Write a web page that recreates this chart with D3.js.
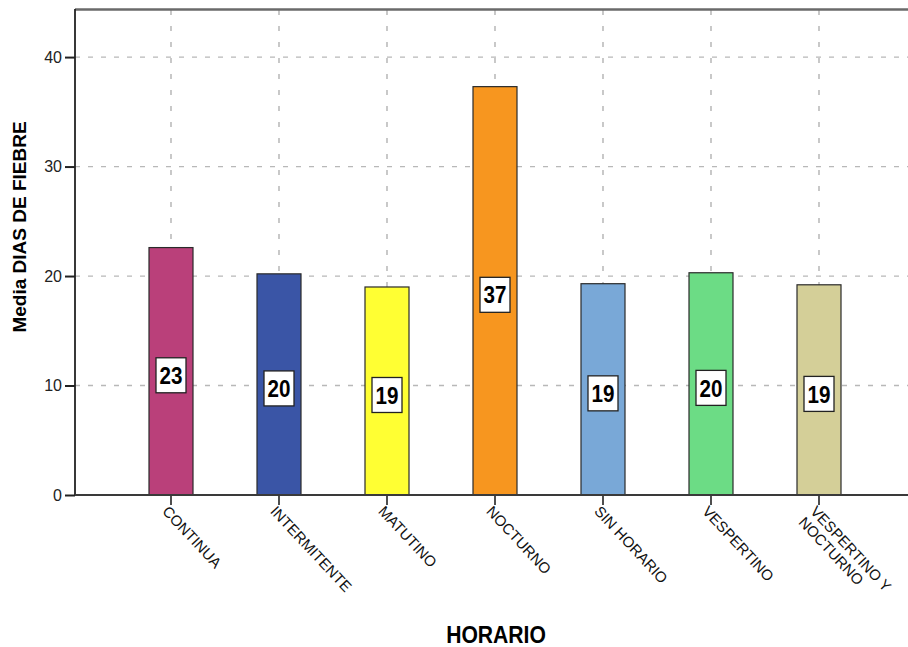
<!DOCTYPE html>
<html>
<head>
<meta charset="utf-8">
<script src="https://cdn.jsdelivr.net/npm/d3@7"></script>
<style>
  html, body { margin: 0; padding: 0; background: #fff; }
  svg { display: block; font-family: "Liberation Sans", Arial, sans-serif; }
</style>
</head>
<body>
<svg id="chart" width="908" height="647"></svg>
<script>
// Mean days of fever by schedule
const categories = ["CONTINUA", "INTERMITENTE", "MATUTINO", "NOCTURNO", "SIN HORARIO", "VESPERTINO", "VESPERTINO Y NOCTURNO"];
const meanDays   = [22.6, 20.2, 19.0, 37.3, 19.3, 20.3, 19.2];
const barColors  = ["#BA407A", "#3A55A6", "#FFFF33", "#F7961F", "#79A8D7", "#6CDC85", "#D4CF98"];
const yTicks     = [0, 10, 20, 30, 40];
// multi-line category labels
const tickLines  = [["CONTINUA"], ["INTERMITENTE"], ["MATUTINO"], ["NOCTURNO"], ["SIN HORARIO"], ["VESPERTINO"], ["VESPERTINO Y", "NOCTURNO"]];

const svg = d3.select("#chart");
const plot = { left: 75, right: 910, top: 10, bottom: 495 };

const x = d3.scaleBand().domain(categories).range([117, 873]).padding(0);
const y = d3.scaleLinear().domain([0, 44.3]).range([plot.bottom, plot.top]);
const barW = 44;
const cx = d => x(d) + x.bandwidth() / 2;

// horizontal grid
svg.append("g").selectAll("line").data(yTicks.filter(t => t > 0)).join("line")
  .attr("x1", plot.left).attr("x2", plot.right)
  .attr("y1", d => y(d)).attr("y2", d => y(d))
  .attr("stroke", "#b8b8b8").attr("stroke-width", 1.3).attr("stroke-dasharray", "5,8");

// vertical grid at category centres
svg.append("g").selectAll("line").data(categories).join("line")
  .attr("x1", d => cx(d)).attr("x2", d => cx(d))
  .attr("y1", plot.top).attr("y2", plot.bottom)
  .attr("stroke", "#acacac").attr("stroke-width", 1.3).attr("stroke-dasharray", "5,11");

// top frame line
svg.append("line")
  .attr("x1", plot.left).attr("x2", plot.right)
  .attr("y1", plot.top - 0.5).attr("y2", plot.top - 0.5)
  .attr("stroke", "#6a6a6a").attr("stroke-width", 2.5);

// bars
svg.append("g").selectAll("rect").data(categories).join("rect")
  .attr("x", d => cx(d) - barW / 2)
  .attr("width", barW)
  .attr("y", (d, i) => y(meanDays[i]))
  .attr("height", (d, i) => y(0) - y(meanDays[i]))
  .attr("fill", (d, i) => barColors[i])
  .attr("stroke", "#2a2a2a").attr("stroke-width", 1.2);

// y axis
const yAxis = svg.append("g").attr("transform", `translate(${plot.left},0)`)
  .call(d3.axisLeft(y).tickValues(yTicks).tickSize(10).tickPadding(3).tickFormat(d3.format("d")));
yAxis.select(".domain").remove();
yAxis.selectAll(".tick line").attr("stroke", "#222").attr("stroke-width", 2);
yAxis.selectAll(".tick text").attr("font-size", 16).attr("fill", "#222")
  .attr("font-family", "Liberation Sans, Arial, sans-serif");
svg.append("line").attr("x1", plot.left).attr("x2", plot.left)
  .attr("y1", plot.top - 1).attr("y2", plot.bottom)
  .attr("stroke", "#222").attr("stroke-width", 1.8);

// x axis
const xAxis = svg.append("g").attr("transform", `translate(0,${plot.bottom})`)
  .call(d3.axisBottom(x).tickSize(10).tickFormat(""));
xAxis.select(".domain").remove();
xAxis.selectAll(".tick line").attr("stroke", "#222").attr("stroke-width", 1.6);
svg.append("line").attr("x1", plot.left).attr("x2", plot.right)
  .attr("y1", plot.bottom).attr("y2", plot.bottom)
  .attr("stroke", "#3a3a3a").attr("stroke-width", 2);

// rotated category labels
const tl = svg.append("g").selectAll("text").data(categories).join("text")
  .attr("transform", d => `translate(${cx(d) - 1},${plot.bottom + 9}) rotate(47)`)
  .attr("font-size", 15).attr("fill", "#111");
tl.each(function(d, i) {
  d3.select(this).selectAll("tspan").data(tickLines[i]).join("tspan")
    .attr("x", 0)
    .attr("y", (t, j) => j * 16)
    .attr("dy", "0.78em")
    .text(t => t);
});

// value labels
const fmt = d3.format(".0f");
const lab = svg.append("g").selectAll("g").data(categories).join("g")
  .attr("transform", (d, i) => `translate(${cx(d)},${y(meanDays[i] / 2) + 4})`);
lab.append("rect")
  .attr("x", -15).attr("y", -17.5).attr("width", 30).attr("height", 35)
  .attr("fill", "#fff").attr("stroke", "#222").attr("stroke-width", 1.3);
lab.append("text")
  .attr("text-anchor", "middle").attr("dy", "0.36em")
  .attr("transform", "scale(0.86,1)")
  .attr("font-size", 24).attr("font-weight", "bold").attr("fill", "#000")
  .text((d, i) => fmt(meanDays[i]));

// axis titles
svg.append("text")
  .attr("transform", `translate(26,227) rotate(-90)`)
  .attr("text-anchor", "middle")
  .attr("font-size", 19).attr("font-weight", "bold").attr("fill", "#000")
  .text("Media DIAS DE FIEBRE");

svg.append("text")
  .attr("transform", `translate(496,643) scale(0.88,1)`)
  .attr("text-anchor", "middle")
  .attr("font-size", 24).attr("font-weight", "bold").attr("fill", "#000")
  .text("HORARIO");
</script>
</body>
</html>
